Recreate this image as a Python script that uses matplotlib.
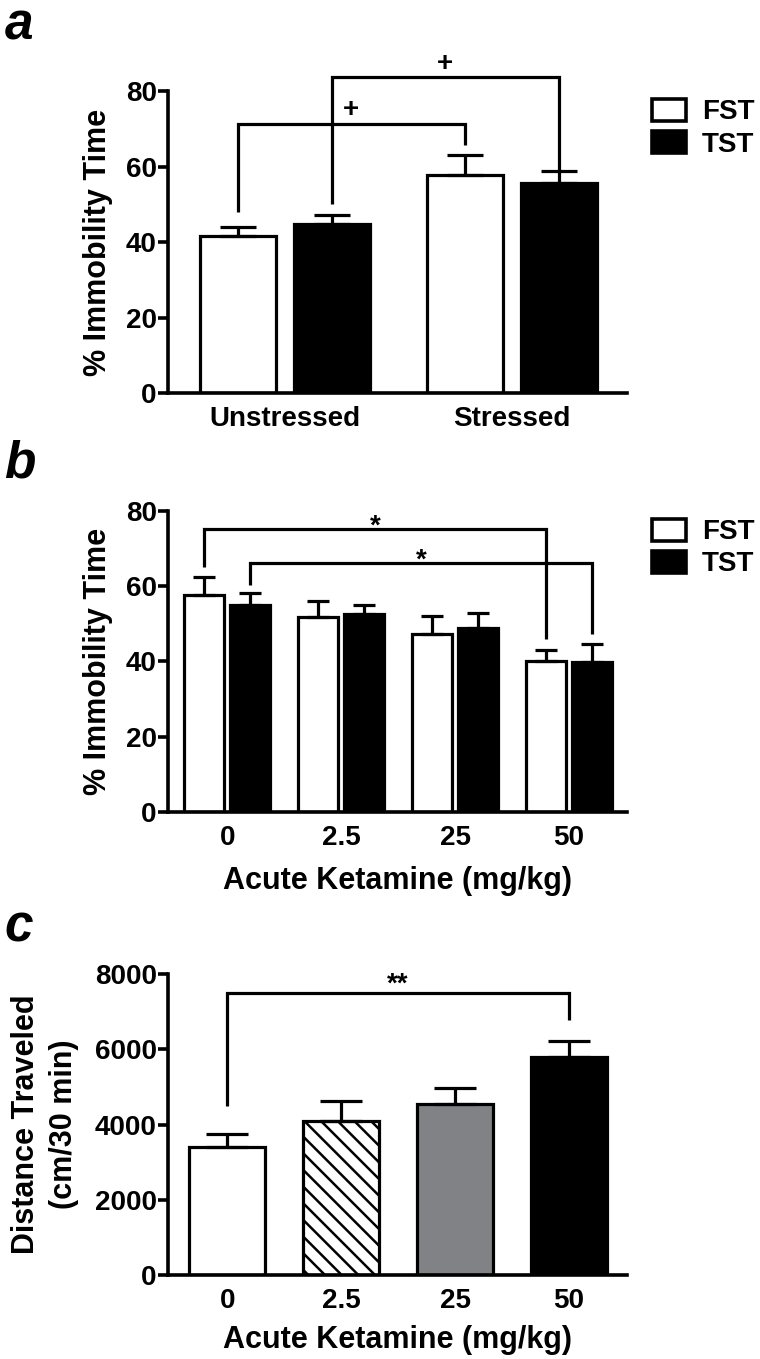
import numpy as np
import matplotlib
matplotlib.use("Agg")
import matplotlib.pyplot as plt
from matplotlib.patches import Patch

plt.rcParams['font.family'] = ['Liberation Sans', 'DejaVu Sans']
plt.rcParams['font.weight'] = 'bold'
plt.rcParams['axes.labelweight'] = 'bold'
plt.rcParams['hatch.linewidth'] = 1.8

# panel a: stress
stress_groups = ["Unstressed", "Stressed"]
fst_a = [41.5, 57.8]
fst_a_err = [2.5, 5.2]
tst_a = [44.8, 55.6]
tst_a_err = [2.3, 3.1]

# panel b: ketamine, immobility
doses = ["0", "2.5", "25", "50"]
fst_b = [57.6, 51.7, 47.3, 40.2]
fst_b_err = [4.9, 4.4, 4.9, 2.8]
tst_b = [55.0, 52.6, 49.0, 39.9]
tst_b_err = [3.1, 2.4, 4.0, 4.7]

# panel c: locomotion
dist = [3415, 4106, 4550, 5783]
dist_err = [340, 530, 420, 445]
dist_colors = ["white", "white", "#818286", "black"]
dist_hatch = ["", "\\\\", "", ""]

# brackets: (left bar, right bar, height, left end, right end, label)
brackets_a = [(("FST", 0), ("FST", 1), 71.4, 48.0, 65.7, "+"),
              (("TST", 0), ("TST", 1), 83.6, 50.2, 59.1, "+")]
brackets_b = [(("FST", 0), ("FST", 3), 75.2, 65.2, 45.9, "*"),
              (("TST", 0), ("TST", 3), 66.1, 60.3, 47.4, "*")]
brackets_c = [((None, 0), (None, 3), 7494, 4479, 6767, "**")]

LW = 2.3
FS = 20


def style_axes(ax):
    for s in ["top", "right"]:
        ax.spines[s].set_visible(False)
    for s in ["left", "bottom"]:
        ax.spines[s].set_linewidth(2.6)
    ax.tick_params(axis="y", direction="out", length=7, width=2.6, labelsize=FS, pad=1)
    ax.tick_params(axis="x", length=0, labelsize=FS, pad=9)


def draw_bracket(ax, x1, x2, y, y1, y2, label, offset):
    ax.plot([x1, x1, x2, x2], [y1, y, y, y2], color="black", lw=LW,
            clip_on=False, solid_joinstyle="miter", solid_capstyle="butt")
    ax.annotate(label, xy=((x1 + x2) / 2, y), xytext=(0, offset),
                textcoords="offset points", ha="center", va="baseline",
                fontsize=FS, annotation_clip=False)


def grouped(ax, ngroups, fst, fst_err, tst, tst_err, width, off, cap):
    x = np.arange(ngroups)
    ekw = dict(elinewidth=LW, capthick=LW, ecolor="black")
    ax.bar(x - off, fst, width, color="white", edgecolor="black", linewidth=LW,
           yerr=[np.zeros(ngroups), fst_err], capsize=cap, error_kw=ekw)
    ax.bar(x + off, tst, width, color="black", edgecolor="black", linewidth=LW,
           yerr=[np.zeros(ngroups), tst_err], capsize=cap, error_kw=ekw)
    return x


def add_legend(ax):
    handles = [Patch(facecolor="white", edgecolor="black", linewidth=2.6),
               Patch(facecolor="black", edgecolor="black", linewidth=2.6)]
    ax.legend(handles, ["FST", "TST"], loc="upper left", bbox_to_anchor=(1.055, 0.975),
              frameon=False, fontsize=FS, handlelength=1.2, handleheight=0.85,
              handletextpad=0.6, labelspacing=0.2, borderaxespad=0, borderpad=0)


fig = plt.figure(figsize=(7.6, 13.59), dpi=100)

# ---- a
ax1 = fig.add_axes([0.221, 0.7108, 0.604, 0.2222])
off_a = 0.207
x = grouped(ax1, 2, fst_a, fst_a_err, tst_a, tst_a_err, 0.335, off_a, 13)
ax1.set_xlim(-0.515, 1.507)
ax1.set_ylim(0, 80)
ax1.set_yticks([0, 20, 40, 60, 80])
ax1.set_xticks(x)
ax1.set_xticklabels(stress_groups)
style_axes(ax1)
ax1.set_ylabel("% Immobility Time", fontsize=22, va="center")
ax1.yaxis.set_label_coords(-0.152, 0.5)
add_legend(ax1)
for (s1, g1), (s2, g2), y, y1, y2, lab in brackets_a:
    xa = g1 + (-off_a if s1 == "FST" else off_a)
    xb = g2 + (-off_a if s2 == "FST" else off_a)
    draw_bracket(ax1, xa, xb, y, y1, y2, lab, 4.5)

# ---- b
ax2 = fig.add_axes([0.221, 0.4025, 0.604, 0.2215])
off_b = 0.2
x = grouped(ax2, 4, fst_b, fst_b_err, tst_b, tst_b_err, 0.35, off_b, 8)
ax2.set_xlim(-0.52, 3.51)
ax2.set_ylim(0, 80)
ax2.set_yticks([0, 20, 40, 60, 80])
ax2.set_xticks(x)
ax2.set_xticklabels(doses)
style_axes(ax2)
ax2.set_ylabel("% Immobility Time", fontsize=22, va="center")
ax2.yaxis.set_label_coords(-0.152, 0.5)
ax2.set_xlabel("Acute Ketamine (mg/kg)", fontsize=22, va="center")
ax2.xaxis.set_label_coords(0.5, -0.229)
add_legend(ax2)
for (s1, g1), (s2, g2), y, y1, y2, lab in brackets_b:
    xa = g1 + (-off_b if s1 == "FST" else off_b)
    xb = g2 + (-off_b if s2 == "FST" else off_b)
    draw_bracket(ax2, xa, xb, y, y1, y2, lab, -3)

# ---- c
ax3 = fig.add_axes([0.221, 0.0618, 0.604, 0.2215])
x = np.arange(len(doses))
ax3.bar(x, dist, 0.67, color=dist_colors, edgecolor="black", linewidth=LW,
        hatch=dist_hatch, yerr=[np.zeros(len(doses)), dist_err], capsize=15,
        error_kw=dict(elinewidth=LW, capthick=LW, ecolor="black"))
ax3.set_xlim(-0.52, 3.51)
ax3.set_ylim(0, 8000)
ax3.set_yticks([0, 2000, 4000, 6000, 8000])
ax3.set_xticks(x)
ax3.set_xticklabels(doses)
style_axes(ax3)
ax3.set_ylabel("Distance Traveled\n(cm/30 min)", fontsize=22, va="center", linespacing=1.35)
ax3.yaxis.set_label_coords(-0.268, 0.5)
ax3.set_xlabel("Acute Ketamine (mg/kg)", fontsize=22, va="center")
ax3.xaxis.set_label_coords(0.5, -0.216)
for (_, g1), (_, g2), y, y1, y2, lab in brackets_c:
    draw_bracket(ax3, g1, g2, y, y1, y2, lab, 1)

# panel letters
fig.text(0.006, 0.999, "a", fontsize=37, style="italic", fontweight="bold",
         va="top", ha="left")
for letter, ybase in [("b", 478), ("c", 942)]:
    fig.text(0.006, 1 - ybase / 1359, letter, fontsize=37, style="italic",
             fontweight="bold", va="baseline", ha="left")

fig.savefig("out.png", dpi=100)
